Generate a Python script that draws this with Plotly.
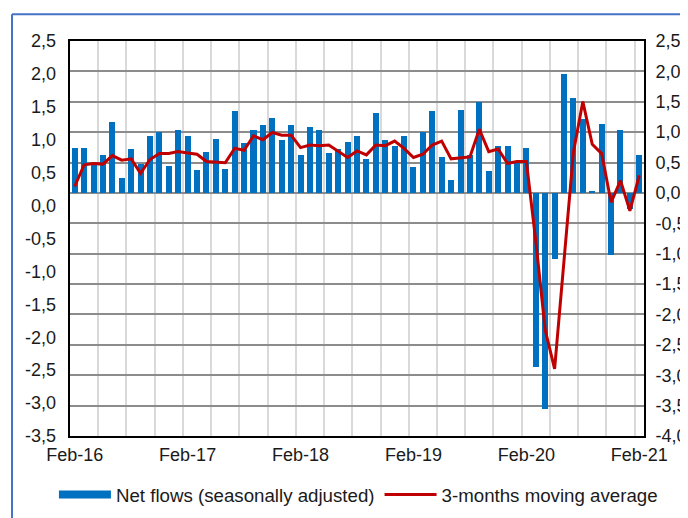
import plotly.graph_objects as go
import pandas as pd

# ---- data ----
months = pd.date_range("2016-02-01", periods=61, freq="MS").strftime("%b-%y").tolist()

net_flows = [
    0.74, 0.74, 0.50, 0.63, 1.17, 0.25, 0.72, 0.48, 0.93, 1.00, 0.44, 1.04,
    0.93, 0.38, 0.68, 0.89, 0.40, 1.34, 0.82, 1.04, 1.12, 1.23, 0.87, 1.12,
    0.62, 1.08, 1.04, 0.66, 0.72, 0.83, 0.93, 0.56, 1.32, 0.87, 0.77, 0.93,
    0.42, 1.00, 1.34, 0.59, 0.21, 1.37, 0.62, 1.50, 0.36, 0.78, 0.77, 0.49,
    0.74, -2.86, -3.55, -1.09, 1.96, 1.56, 1.22, 0.02, 1.13, -1.02, 1.04, -0.26,
    0.63,
]

moving_avg = [
    0.29, 0.62, 0.64, 0.63, 0.76, 0.69, 0.71, 0.49, 0.70, 0.79, 0.79, 0.82,
    0.80, 0.78, 0.67, 0.66, 0.65, 0.87, 0.84, 1.06, 1.00, 1.11, 1.07, 1.07,
    0.88, 0.92, 0.91, 0.92, 0.82, 0.73, 0.83, 0.77, 0.92, 0.91, 0.98, 0.87,
    0.73, 0.78, 0.92, 0.98, 0.71, 0.72, 0.74, 1.16, 0.82, 0.86, 0.64, 0.67,
    0.67, -0.54, -1.89, -2.48, -0.85, 0.81, 1.58, 0.93, 0.79, 0.05, 0.38, -0.08,
    0.46,
]

tick_labels = ["Feb-16", "Feb-17", "Feb-18", "Feb-19", "Feb-20", "Feb-21"]

left_ticks = [2.5, 2.0, 1.5, 1.0, 0.5, 0.0, -0.5, -1.0, -1.5, -2.0, -2.5, -3.0, -3.5]
right_ticks = [2.5, 2.0, 1.5, 1.0, 0.5, 0.0, -0.5, -1.0, -1.5, -2.0, -2.5, -3.0, -3.5, -4.0]


def fmt(v):
    return f"{v:.1f}".replace(".", ",")


positions = list(range(len(months)))
tick_positions = [months.index(t) for t in tick_labels]

FONT = "Liberation Sans, Arial, sans-serif"
TXT = "#1a1a1a"
FS = 18

fig = go.Figure()

fig.add_trace(go.Bar(
    x=positions, y=net_flows, customdata=months,
    marker=dict(color="#0070C0", line=dict(width=0)),
    width=0.64, name="Net flows (seasonally adjusted)",
    showlegend=False, yaxis="y",
    hovertemplate="%{customdata}: %{y}<extra></extra>",
))
# legend entry for the bars (wide rectangle like the original)
fig.add_trace(go.Scatter(
    x=[None], y=[None], mode="lines",
    line=dict(color="#0070C0", width=8),
    name="Net flows (seasonally adjusted)", yaxis="y",
))
fig.add_trace(go.Scatter(
    x=positions, y=moving_avg, customdata=months, mode="lines",
    line=dict(color="#C00000", width=3),
    name="3-months moving average", yaxis="y2",
    hovertemplate="%{customdata}: %{y}<extra></extra>",
))

fig.update_layout(
    width=680, height=510,
    margin=dict(l=62, r=44, t=33, b=82, autoexpand=False),
    paper_bgcolor="white", plot_bgcolor="white",
    font=dict(family=FONT, size=FS, color=TXT),
    bargap=0,
    showlegend=True,
    legend=dict(
        orientation="h", x=-0.028, xanchor="left",
        y=-0.149, yanchor="middle",
        font=dict(family=FONT, size=18.7, color=TXT),
        itemwidth=52, tracegroupgap=0, bgcolor="rgba(0,0,0,0)",
    ),
    xaxis=dict(
        range=[-0.5, 60.5], automargin=False,
        tickmode="array", tickvals=tick_positions, ticktext=tick_labels,
        ticks="", ticklabelstandoff=1,
        showgrid=False, zeroline=False,
        showline=True, mirror=True, linecolor="black", linewidth=2,
        minor=dict(tickmode="linear", tick0=-0.5, dtick=3, showgrid=True,
                   gridcolor="#d9d9d9", gridwidth=2, ticks=""),
    ),
    yaxis=dict(
        side="right", range=[-4.0, 2.5], automargin=False,
        tickmode="array", tickvals=right_ticks, ticktext=[fmt(v) for v in right_ticks],
        ticks="", ticklabelstandoff=6,
        showgrid=True, gridcolor="#8c8c8c", gridwidth=2,
        zeroline=False,
        showline=True, mirror=True, linecolor="black", linewidth=2,
    ),
    yaxis2=dict(
        side="left", overlaying="y", range=[-3.5, 2.5], automargin=False,
        tickmode="array", tickvals=left_ticks, ticktext=[fmt(v) for v in left_ticks],
        ticks="", ticklabelstandoff=13,
        showgrid=False, zeroline=False, showline=False,
    ),
    shapes=[
        dict(type="line", xref="paper", yref="paper",
             x0=-0.101, x1=1.1, y0=1.068, y1=1.068,
             line=dict(color="#4472C4", width=2)),
        dict(type="line", xref="paper", yref="paper",
             x0=-0.101, x1=-0.101, y0=1.068, y1=-0.25,
             line=dict(color="#4472C4", width=2)),
    ],
)

fig.write_html("out.html")
